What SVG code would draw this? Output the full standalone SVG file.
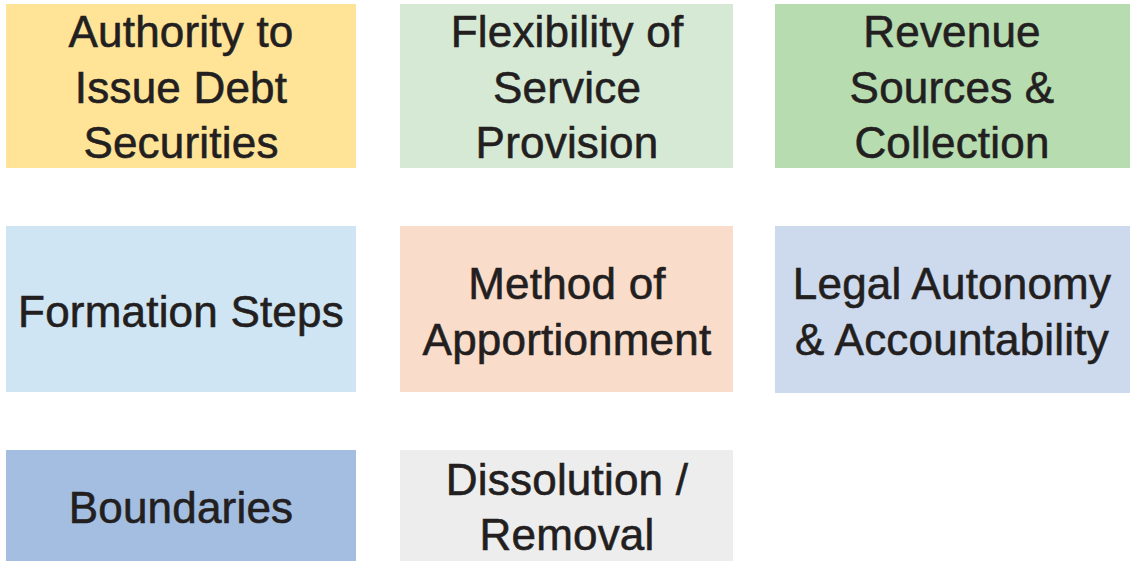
<svg xmlns="http://www.w3.org/2000/svg" width="1131" height="561" viewBox="0 0 1131 561">
<style>
text{font-family:"Liberation Sans","DejaVu Sans",sans-serif;font-size:44px;fill:#231f20;stroke:#231f20;stroke-width:0.6px;text-anchor:middle;letter-spacing:0.2px}
</style>
<rect width="1131" height="561" fill="#ffffff"/>
<g id="n1"><rect x="6" y="4" width="350" height="164" fill="#FFE498"/>
<text x="181" y="47">Authority to</text><text x="181" y="103">Issue Debt</text><text x="181" y="158">Securities</text></g>
<g id="n2"><rect x="400" y="4" width="333" height="164" fill="#D6E9D4"/>
<text x="567" y="47">Flexibility of</text><text x="567" y="103">Service</text><text x="567" y="158">Provision</text></g>
<g id="n3"><rect x="775" y="4" width="355" height="164" fill="#B6DCB0"/>
<text x="952" y="47">Revenue</text><text x="952" y="103">Sources &amp;</text><text x="952" y="158">Collection</text></g>
<g id="n4"><rect x="6" y="226" width="350" height="166" fill="#D0E5F3"/>
<text x="181" y="327">Formation Steps</text></g>
<g id="n5"><rect x="400" y="226" width="333" height="166" fill="#FADCCB"/>
<text x="567" y="299">Method of</text><text x="567" y="355">Apportionment</text></g>
<g id="n6"><rect x="775" y="226" width="355" height="167" fill="#CDD9EC"/>
<text x="952" y="299">Legal Autonomy</text><text x="952" y="355">&amp; Accountability</text></g>
<g id="n7"><rect x="6" y="450" width="350" height="111" fill="#A4BEE1"/>
<text x="181" y="523">Boundaries</text></g>
<g id="n8"><rect x="400" y="450" width="333" height="111" fill="#EDEDED"/>
<text x="567" y="495">Dissolution /</text><text x="567" y="550">Removal</text></g>
<g id="connectors"></g>
</svg>
